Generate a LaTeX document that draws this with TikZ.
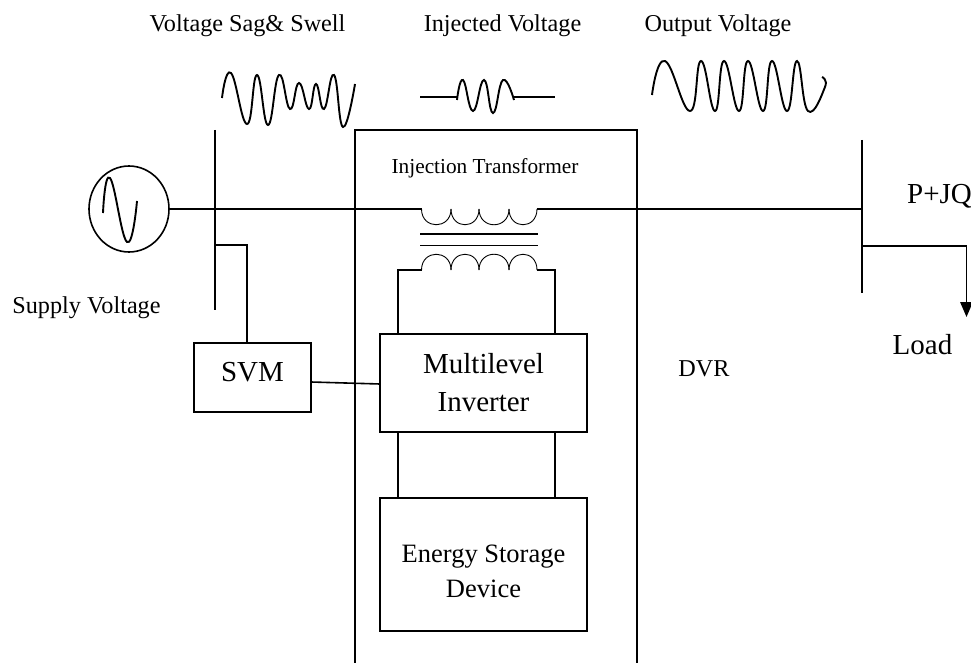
\documentclass[tikz,border=0pt]{standalone}
\usepackage{fontspec}
\setmainfont{Liberation Serif}
\usetikzlibrary{arrows.meta,shapes.geometric}

\begin{document}
\begin{tikzpicture}[x=1pt,y=-1pt,
  box/.style={draw=black,line width=1.6pt,inner sep=0pt,align=center},
  lbl/.style={inner sep=0pt,anchor=base},
  small/.style={font=\fontsize{24.2}{28}\selectfont},
  big/.style={font=\fontsize{29}{38}\selectfont},
  wire/.style={line width=1.6pt,draw=black},
  wave/.style={line width=1.9pt,draw=black},
  coil/.style={line width=0.9pt,draw=black}
]
\useasboundingbox (0,0) rectangle (971,663);

\node[lbl,small] (sagtxt) at (247.5,32) {Voltage Sag\& Swell};
\node[lbl,small] (injtxt) at (502.5,32) {Injected Voltage};
\node[lbl,small] (outtxt) at (718,32) {Output Voltage};
\node[lbl,font=\fontsize{21.3}{25}\selectfont] (transtxt) at (485,174) {Injection Transformer};
\node[lbl,small] (supplytxt) at (86.5,313) {Supply Voltage};
\node[lbl,big] (pq) at (939.5,204) {P+JQ};
\node[lbl,big] (load) at (922.5,354) {Load};
\node[lbl,small] (dvr) at (704,376) {DVR};

\node[box,minimum width=80pt,minimum height=86pt,ellipse] (src) at (129,209) {};
\node[box,big,minimum width=117pt,minimum height=69pt,text depth=11pt] (svm) at (252.5,377.5) {SVM};
\node[box,big,minimum width=207pt,minimum height=98pt] (inv) at (483.5,383) {Multilevel\\Inverter};
\node[box,minimum width=207pt,minimum height=133pt,font=\fontsize{26.5}{35}\selectfont] (ess) at (483.5,564.5) {\rule{0pt}{31pt}Energy Storage\\Device};

\coordinate (bus1t) at (215,130);
\coordinate (bus1b) at (215,310);
\coordinate (bus1k) at (215,245);
\coordinate (bus2t) at (862,140);
\coordinate (bus2b) at (862,293);
\coordinate (bus2j) at (862,209);
\coordinate (bus2k) at (862,246);
\coordinate (prima) at (421.5,209);
\coordinate (primb) at (537,209);
\coordinate (seca) at (421.5,270);
\coordinate (secb) at (537,270);
\coordinate (svmin) at (247,343);
\coordinate (svmout) at (311,382);
\coordinate (invin) at (380,384);
\coordinate (loadend) at (966.5,317);

% DVR enclosure
\draw[wire] (355,663) -- (355,130) -- (637,130) -- (637,663);

% buses and lines
\draw[wire] (bus1t) -- (bus1b);
\draw[wire] (bus2t) -- (bus2b);
\draw[wire] (src.east) -- (prima);
\draw[wire] (primb) -- (bus2j);
\draw[wire] (bus1k) -| (svmin);
\draw[wire,-{Triangle[length=15pt,width=12.5pt]}] (bus2k) -| (loadend);
\draw[wire] (svmout) -- (invin);
\draw[wire] (seca) -- (398,270) -- (398,334);
\draw[wire] (secb) -- (555,270) -- (555,334);
\draw[wire] (398,432) -- (398,498);
\draw[wire] (555,432) -- (555,498);

% transformer
\foreach \a/\b in {421.5/451,451/479,479/509,509/537}{
  \draw[coil] (\a,209) .. controls (\a,230) and (\b,230) .. (\b,209);
  \draw[coil] (\a,270) .. controls (\a,249) and (\b,249) .. (\b,270);
}
\draw[wire] (420,234) -- (538,234);
\draw[wire] (420,245.5) -- (538,245.5);

% waveforms
\draw[wave] plot[smooth,tension=0.8] coordinates {(222,98) (231,73) (247,124) (257,75) (268,125) (279,75) (290,109) (299,83) (309,109) (316,84) (324,109) (334,75) (343,127) (355,84)};
\draw[wire] (420,97) -- (457,97);
\draw[wave] plot[smooth,tension=0.8] coordinates {(457,100) (463,80) (473,111) (484,80) (493,113) (503,80) (514,100)};
\draw[wire] (514,97) -- (555,97);
\draw[wave] plot[smooth,tension=0.8] coordinates {(652,95) (665,61) (690,111) (701,61) (715,111) (724,61) (739,111) (748,61) (763,111) (772,61) (787,111) (797,61) (808,111) (825,87) (822,77)};
\draw[wave] plot[smooth,tension=0.8] coordinates {(103,213) (110,178) (127,242) (137,201)};
\end{tikzpicture}
\end{document}
